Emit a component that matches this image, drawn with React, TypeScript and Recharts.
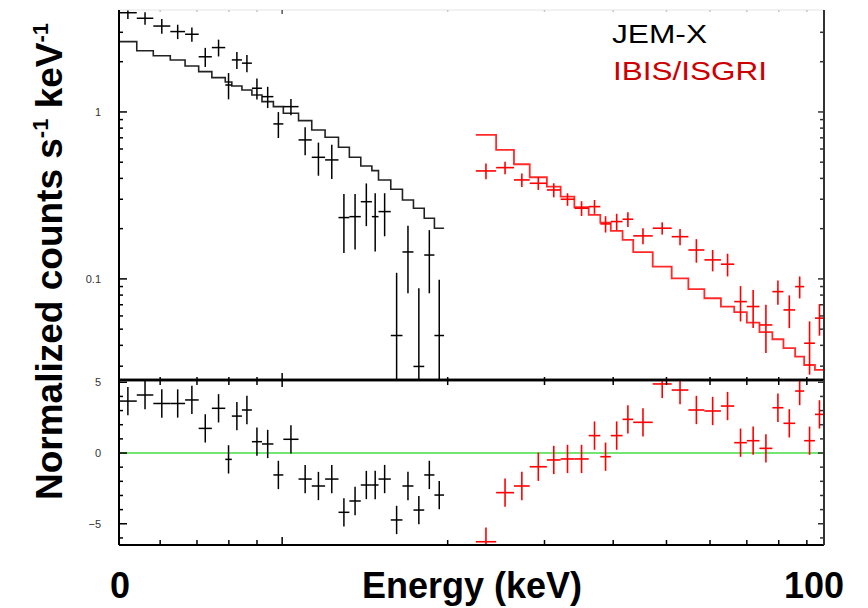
import React from 'react';
import { ComposedChart, Scatter, Line, XAxis, YAxis, ErrorBar, ReferenceLine } from 'recharts';

// ---- JEM-X (black) : bin edges in keV, flux, 1-sigma error, model, residual ----
const jemxEdges = [5.05, 5.44, 5.83, 6.26, 6.66, 7.05, 7.45, 7.88, 8.1, 8.45, 8.81, 9.19, 9.64, 10.05, 10.71, 11.32, 11.97, 12.66, 13.25, 13.9, 14.56, 14.97, 15.76, 16.55, 17.33, 18.13, 18.92, 19.7];
const jemxFlux = [3.93, 3.64, 3.27, 3.03, 2.92, 2.14, 2.43, 1.45, 2.05, 1.96, 1.387, 1.235, 0.848, 1.076, 0.68, 0.535, 0.516, 0.233, 0.236, 0.29, 0.236, 0.253, 0.0458, 0.145, 0.0299, 0.139, 0.0458];
const jemxErr = [0.33, 0.31, 0.33, 0.3, 0.29, 0.28, 0.28, 0.26, 0.24, 0.23, 0.2, 0.18, 0.15, 0.12, 0.13, 0.12, 0.12, 0.09, 0.086, 0.083, 0.09, 0.073, 0.063, 0.063, 0.058, 0.057, 0.053];
const jemxModel = [2.636, 2.328, 2.173, 2.049, 1.885, 1.743, 1.605, 1.512, 1.431, 1.354, 1.264, 1.153, 1.076, 0.982, 0.887, 0.78, 0.7055, 0.6145, 0.5355, 0.4749, 0.4451, 0.3916, 0.3444, 0.2972, 0.265, 0.2309, 0.2012];
const jemxResid = [3.67, 4.1, 3.5, 3.5, 3.75, 1.74, 3.16, -0.45, 2.61, 3.04, 0.8, 0.64, -1.55, 0.97, -1.84, -2.33, -1.84, -4.19, -3.39, -2.26, -2.26, -1.84, -4.73, -2.33, -4.03, -1.55, -2.97];

// ---- IBIS/ISGRI (red) ----
const isgriEdges = [22.5, 24.5, 26.4, 28.2, 30.3, 32.1, 34.0, 36.1, 37.9, 39.6, 41.6, 43.5, 47.2, 51.1, 54.8, 58.6, 62.8, 66.4, 70.0, 73.8, 77.9, 81.6, 85.7, 89.0, 93.1, 96.7];
const isgriFlux = [0.4433, 0.4639, 0.3916, 0.374, 0.341, 0.3, 0.265, 0.271, 0.2135, 0.2205, 0.2278, 0.181, 0.2012, 0.179, 0.149, 0.13, 0.1225, 0.0731, 0.0683, 0.053, 0.0839, 0.0652, 0.0899, 0.0412, 0.0582];
const isgriErr = [0.048, 0.04, 0.036, 0.033, 0.033, 0.026, 0.027, 0.026, 0.024, 0.025, 0.023, 0.02, 0.017, 0.02, 0.024, 0.019, 0.019, 0.0175, 0.0175, 0.017, 0.014, 0.0145, 0.0135, 0.0145, 0.0125];
const isgriModel = [0.7284, 0.5921, 0.486, 0.4064, 0.357, 0.311, 0.2688, 0.2416, 0.2174, 0.1938, 0.1712, 0.1445, 0.1185, 0.1007, 0.0868, 0.0766, 0.0683, 0.0632, 0.0547, 0.048, 0.0435, 0.0385, 0.0342, 0.0305, 0.0285];
const isgriResid = [-6.27, -2.8, -2.33, -0.97, -0.49, -0.42, -0.42, 1.23, -0.26, 1.23, 2.38, 2.17, 4.88, 4.45, 3.04, 2.97, 3.32, 0.73, 0.87, 0.33, 3.2, 2.1, 4.38, 0.87, 2.73];

// ---- axes ----
const energyDomain: [number, number] = [5.05, 96.7];
const fluxDomain: [number, number] = [0.0248, 4.08];
const residDomain: [number, number] = [-6.5, 5.16];
const energyTicks = [6, 7, 8, 9, 10, 20, 30, 40, 50, 60, 70, 80, 90];
const energyMajor = [10];
const fluxTicks = [0.03, 0.04, 0.05, 0.06, 0.07, 0.08, 0.09, 0.1, 0.2, 0.3, 0.4, 0.5, 0.6, 0.7, 0.8, 0.9, 1, 2, 3];
const fluxMajor = [0.1, 1];
const fluxTickLabels: Record<string, string> = { '0.1': '0.1', '1': '1' };
const residTicks = [-6, -5, -4, -3, -2, -1, 0, 1, 2, 3, 4, 5];
const residMajor = [-5, 0, 5];
const residTickLabels: Record<string, string> = { '5': '5', '0': '0', '-5': '\u22125' };

const JEMX_COLOR = '#000000';
const ISGRI_COLOR = '#ff0000';
const LABEL_FONT = '"Liberation Sans", Arial, Helvetica, sans-serif';

type Pt = { e: number; y: number; ex: [number, number]; ey: [number, number] };

function binCentre(edges: number[], i: number) {
  return Math.sqrt(edges[i] * edges[i + 1]);
}

// error bars are cut at the panel frame
function clampBar(v: number, lo: number, hi: number, dom: [number, number]): [number, number] {
  return [Math.min(lo, v - dom[0]), Math.min(hi, dom[1] - v)];
}

function spectrumPoints(edges: number[], flux: number[], err: number[]): Pt[] {
  return flux.map((f, i) => {
    const e = binCentre(edges, i);
    return { e, y: f, ex: [e - edges[i], edges[i + 1] - e], ey: clampBar(f, err[i], err[i], fluxDomain) };
  });
}

function residualPoints(edges: number[], resid: number[]): Pt[] {
  return resid.map((r, i) => {
    const e = binCentre(edges, i);
    return { e, y: r, ex: [e - edges[i], edges[i + 1] - e], ey: clampBar(r, 1, 1, residDomain) };
  });
}

function modelSteps(edges: number[], model: number[]) {
  return edges.map((lo, i) => ({ e: lo, y: model[Math.min(i, model.length - 1)] }));
}

const jemxPts = spectrumPoints(jemxEdges, jemxFlux, jemxErr);
const isgriPts = spectrumPoints(isgriEdges, isgriFlux, isgriErr);
const jemxRes = residualPoints(jemxEdges, jemxResid);
const isgriRes = residualPoints(isgriEdges, isgriResid);
const jemxSteps = modelSteps(jemxEdges, jemxModel);
const isgriSteps = modelSteps(isgriEdges, isgriModel);

const near = (v: number, list: number[]) => list.some((m) => Math.abs(m - v) < 1e-9);

// ---- tick renderers (ticks drawn inward) ----
const makeYTick = (side: 'left' | 'right', major: number[], labels: Record<string, string> | null, lenMajor: number, lenMinor: number) =>
  (props: any) => {
    const { x, y, payload } = props;
    const v = payload.value;
    const len = near(v, major) ? lenMajor : lenMinor;
    const dir = side === 'left' ? 1 : -1;
    const lab = labels ? labels[String(v)] : undefined;
    return (
      <g>
        <line x1={x} x2={x + dir * len} y1={y} y2={y} stroke={side === 'left' ? '#000' : '#333'} strokeWidth={1.5} />
        {lab !== undefined && (
          <text x={x - 18} y={y} dy={4} textAnchor="end" fontSize={11} fontFamily={LABEL_FONT} fill="#333">
            {lab}
          </text>
        )}
      </g>
    );
  };

const makeXTick = (dir: 1 | -1, lenMajor: number, lenMinor: number, color: string, majorColor: string) =>
  (props: any) => {
    const { x, y, payload } = props;
    const isMajor = near(payload.value, energyMajor);
    const len = isMajor ? lenMajor : lenMinor;
    return <line x1={x} x2={x} y1={y} y2={y + dir * len} stroke={isMajor ? majorColor : color} strokeWidth={1.5} />;
  };

const noMarker = () => <g />;

// frame: plot spans x 119..824; spectrum y 10..380, residuals y 380..545
const sideMargin = { left: 118, right: 43 };

export default function App() {
  return (
    <div style={{ position: 'absolute', left: 0, top: 0, width: 868, height: 608, background: '#fff', overflow: 'hidden' }}>
      {/* spectrum panel */}
      <div style={{ position: 'absolute', left: 0, top: 0 }}>
        <ComposedChart width={868} height={382} margin={{ top: 9, bottom: 1, ...sideMargin }}>
          <XAxis xAxisId="b" dataKey="e" type="number" scale="log" domain={energyDomain} allowDataOverflow
            ticks={energyTicks} interval={0} height={1} tickSize={0} tickMargin={0} tickLine={false}
            axisLine={{ stroke: '#000', strokeWidth: 2.5 }} tick={makeXTick(-1, 7, 3, '#000', '#000')} />
          <XAxis xAxisId="t" orientation="top" dataKey="e" type="number" scale="log" domain={energyDomain} allowDataOverflow
            ticks={energyTicks} interval={0} height={1} tickSize={0} tickMargin={0} tickLine={false}
            axisLine={{ stroke: '#e4e4e4', strokeWidth: 1 }} tick={makeXTick(1, 4, 2, '#c8c8c8', '#555')} />
          <YAxis yAxisId="l" dataKey="y" type="number" scale="log" domain={fluxDomain} allowDataOverflow
            ticks={fluxTicks} interval={0} width={1} tickSize={0} tickMargin={0} tickLine={false}
            axisLine={{ stroke: '#000', strokeWidth: 2 }} tick={makeYTick('left', fluxMajor, fluxTickLabels, 8, 4)} />
          <YAxis yAxisId="r" orientation="right" dataKey="y" type="number" scale="log" domain={fluxDomain} allowDataOverflow
            ticks={fluxTicks} interval={0} width={1} tickSize={0} tickMargin={0} tickLine={false}
            axisLine={{ stroke: '#333', strokeWidth: 2 }} tick={makeYTick('right', fluxMajor, null, 6, 4)} />

          <Line xAxisId="b" yAxisId="l" data={jemxSteps} dataKey="y" type="stepAfter" stroke="#222" strokeWidth={1.6}
            dot={false} activeDot={false} isAnimationActive={false} />
          <Line xAxisId="b" yAxisId="l" data={isgriSteps} dataKey="y" type="stepAfter" stroke="#ff2a2a" strokeWidth={1.8}
            dot={false} activeDot={false} isAnimationActive={false} />

          <Scatter xAxisId="b" yAxisId="l" data={jemxPts} dataKey="y" shape={noMarker} isAnimationActive={false}>
            <ErrorBar dataKey="ex" direction="x" width={0} stroke={JEMX_COLOR} strokeWidth={1.5} />
            <ErrorBar dataKey="ey" direction="y" width={0} stroke={JEMX_COLOR} strokeWidth={1.5} />
          </Scatter>
          <Scatter xAxisId="b" yAxisId="l" data={isgriPts} dataKey="y" shape={noMarker} isAnimationActive={false}>
            <ErrorBar dataKey="ex" direction="x" width={0} stroke={ISGRI_COLOR} strokeWidth={1.6} />
            <ErrorBar dataKey="ey" direction="y" width={0} stroke={ISGRI_COLOR} strokeWidth={1.6} />
          </Scatter>
        </ComposedChart>
      </div>

      {/* residual panel */}
      <div style={{ position: 'absolute', left: 0, top: 370 }}>
        <ComposedChart width={868} height={190} margin={{ top: 9, bottom: 14, ...sideMargin }}>
          <XAxis xAxisId="b" dataKey="e" type="number" scale="log" domain={energyDomain} allowDataOverflow
            ticks={energyTicks} interval={0} height={1} tickSize={0} tickMargin={0} tickLine={false}
            axisLine={{ stroke: '#000', strokeWidth: 2 }} tick={makeXTick(-1, 8, 5, '#000', '#000')} />
          <XAxis xAxisId="t" orientation="top" dataKey="e" type="number" scale="log" domain={energyDomain} allowDataOverflow
            ticks={energyTicks} interval={0} height={1} tickSize={0} tickMargin={0} tickLine={false}
            axisLine={{ stroke: '#000', strokeWidth: 2.5 }} tick={makeXTick(1, 7, 5, '#000', '#000')} />
          <YAxis yAxisId="l" dataKey="y" type="number" domain={residDomain} allowDataOverflow
            ticks={residTicks} interval={0} width={1} tickSize={0} tickMargin={0} tickLine={false}
            axisLine={{ stroke: '#000', strokeWidth: 2 }} tick={makeYTick('left', residMajor, residTickLabels, 8, 4)} />
          <YAxis yAxisId="r" orientation="right" dataKey="y" type="number" domain={residDomain} allowDataOverflow
            ticks={residTicks} interval={0} width={1} tickSize={0} tickMargin={0} tickLine={false}
            axisLine={{ stroke: '#333', strokeWidth: 2 }} tick={makeYTick('right', residMajor, null, 6, 4)} />

          <ReferenceLine xAxisId="b" yAxisId="l" y={0} stroke="#44dd44" strokeWidth={1.5} />

          <Scatter xAxisId="b" yAxisId="l" data={jemxRes} dataKey="y" shape={noMarker} isAnimationActive={false}>
            <ErrorBar dataKey="ex" direction="x" width={0} stroke={JEMX_COLOR} strokeWidth={1.5} />
            <ErrorBar dataKey="ey" direction="y" width={0} stroke={JEMX_COLOR} strokeWidth={1.5} />
          </Scatter>
          <Scatter xAxisId="b" yAxisId="l" data={isgriRes} dataKey="y" shape={noMarker} isAnimationActive={false}>
            <ErrorBar dataKey="ex" direction="x" width={0} stroke={ISGRI_COLOR} strokeWidth={1.6} />
            <ErrorBar dataKey="ey" direction="y" width={0} stroke={ISGRI_COLOR} strokeWidth={1.6} />
          </Scatter>
        </ComposedChart>
      </div>

      {/* titles and instrument legend */}
      <svg width={868} height={608} style={{ position: 'absolute', left: 0, top: 0, pointerEvents: 'none' }}>
        <g fontFamily={LABEL_FONT}>
          <text x={612} y={43} fontSize={26} fill="#000" textLength={95} lengthAdjust="spacingAndGlyphs">JEM-X</text>
          <text x={613} y={80} fontSize={26} fill="#cc0000" textLength={154} lengthAdjust="spacingAndGlyphs">IBIS/ISGRI</text>

          <text transform="translate(62, 500) rotate(-90)" fontSize={37} fontWeight="bold" fill="#000">
            <tspan>Normalized counts s</tspan>
            <tspan fontSize={22} dy={-14}>-1</tspan>
            <tspan dy={14}> keV</tspan>
            <tspan fontSize={22} dy={-14}>-1</tspan>
          </text>

          <text x={472} y={598} textAnchor="middle" fontSize={36} fontWeight="bold" fill="#000">Energy (keV)</text>
          <text x={120} y={598} textAnchor="middle" fontSize={36} fontWeight="bold" fill="#000">0</text>
          <text x={814} y={598} textAnchor="middle" fontSize={36} fontWeight="bold" fill="#000">100</text>
        </g>
      </svg>
    </div>
  );
}
